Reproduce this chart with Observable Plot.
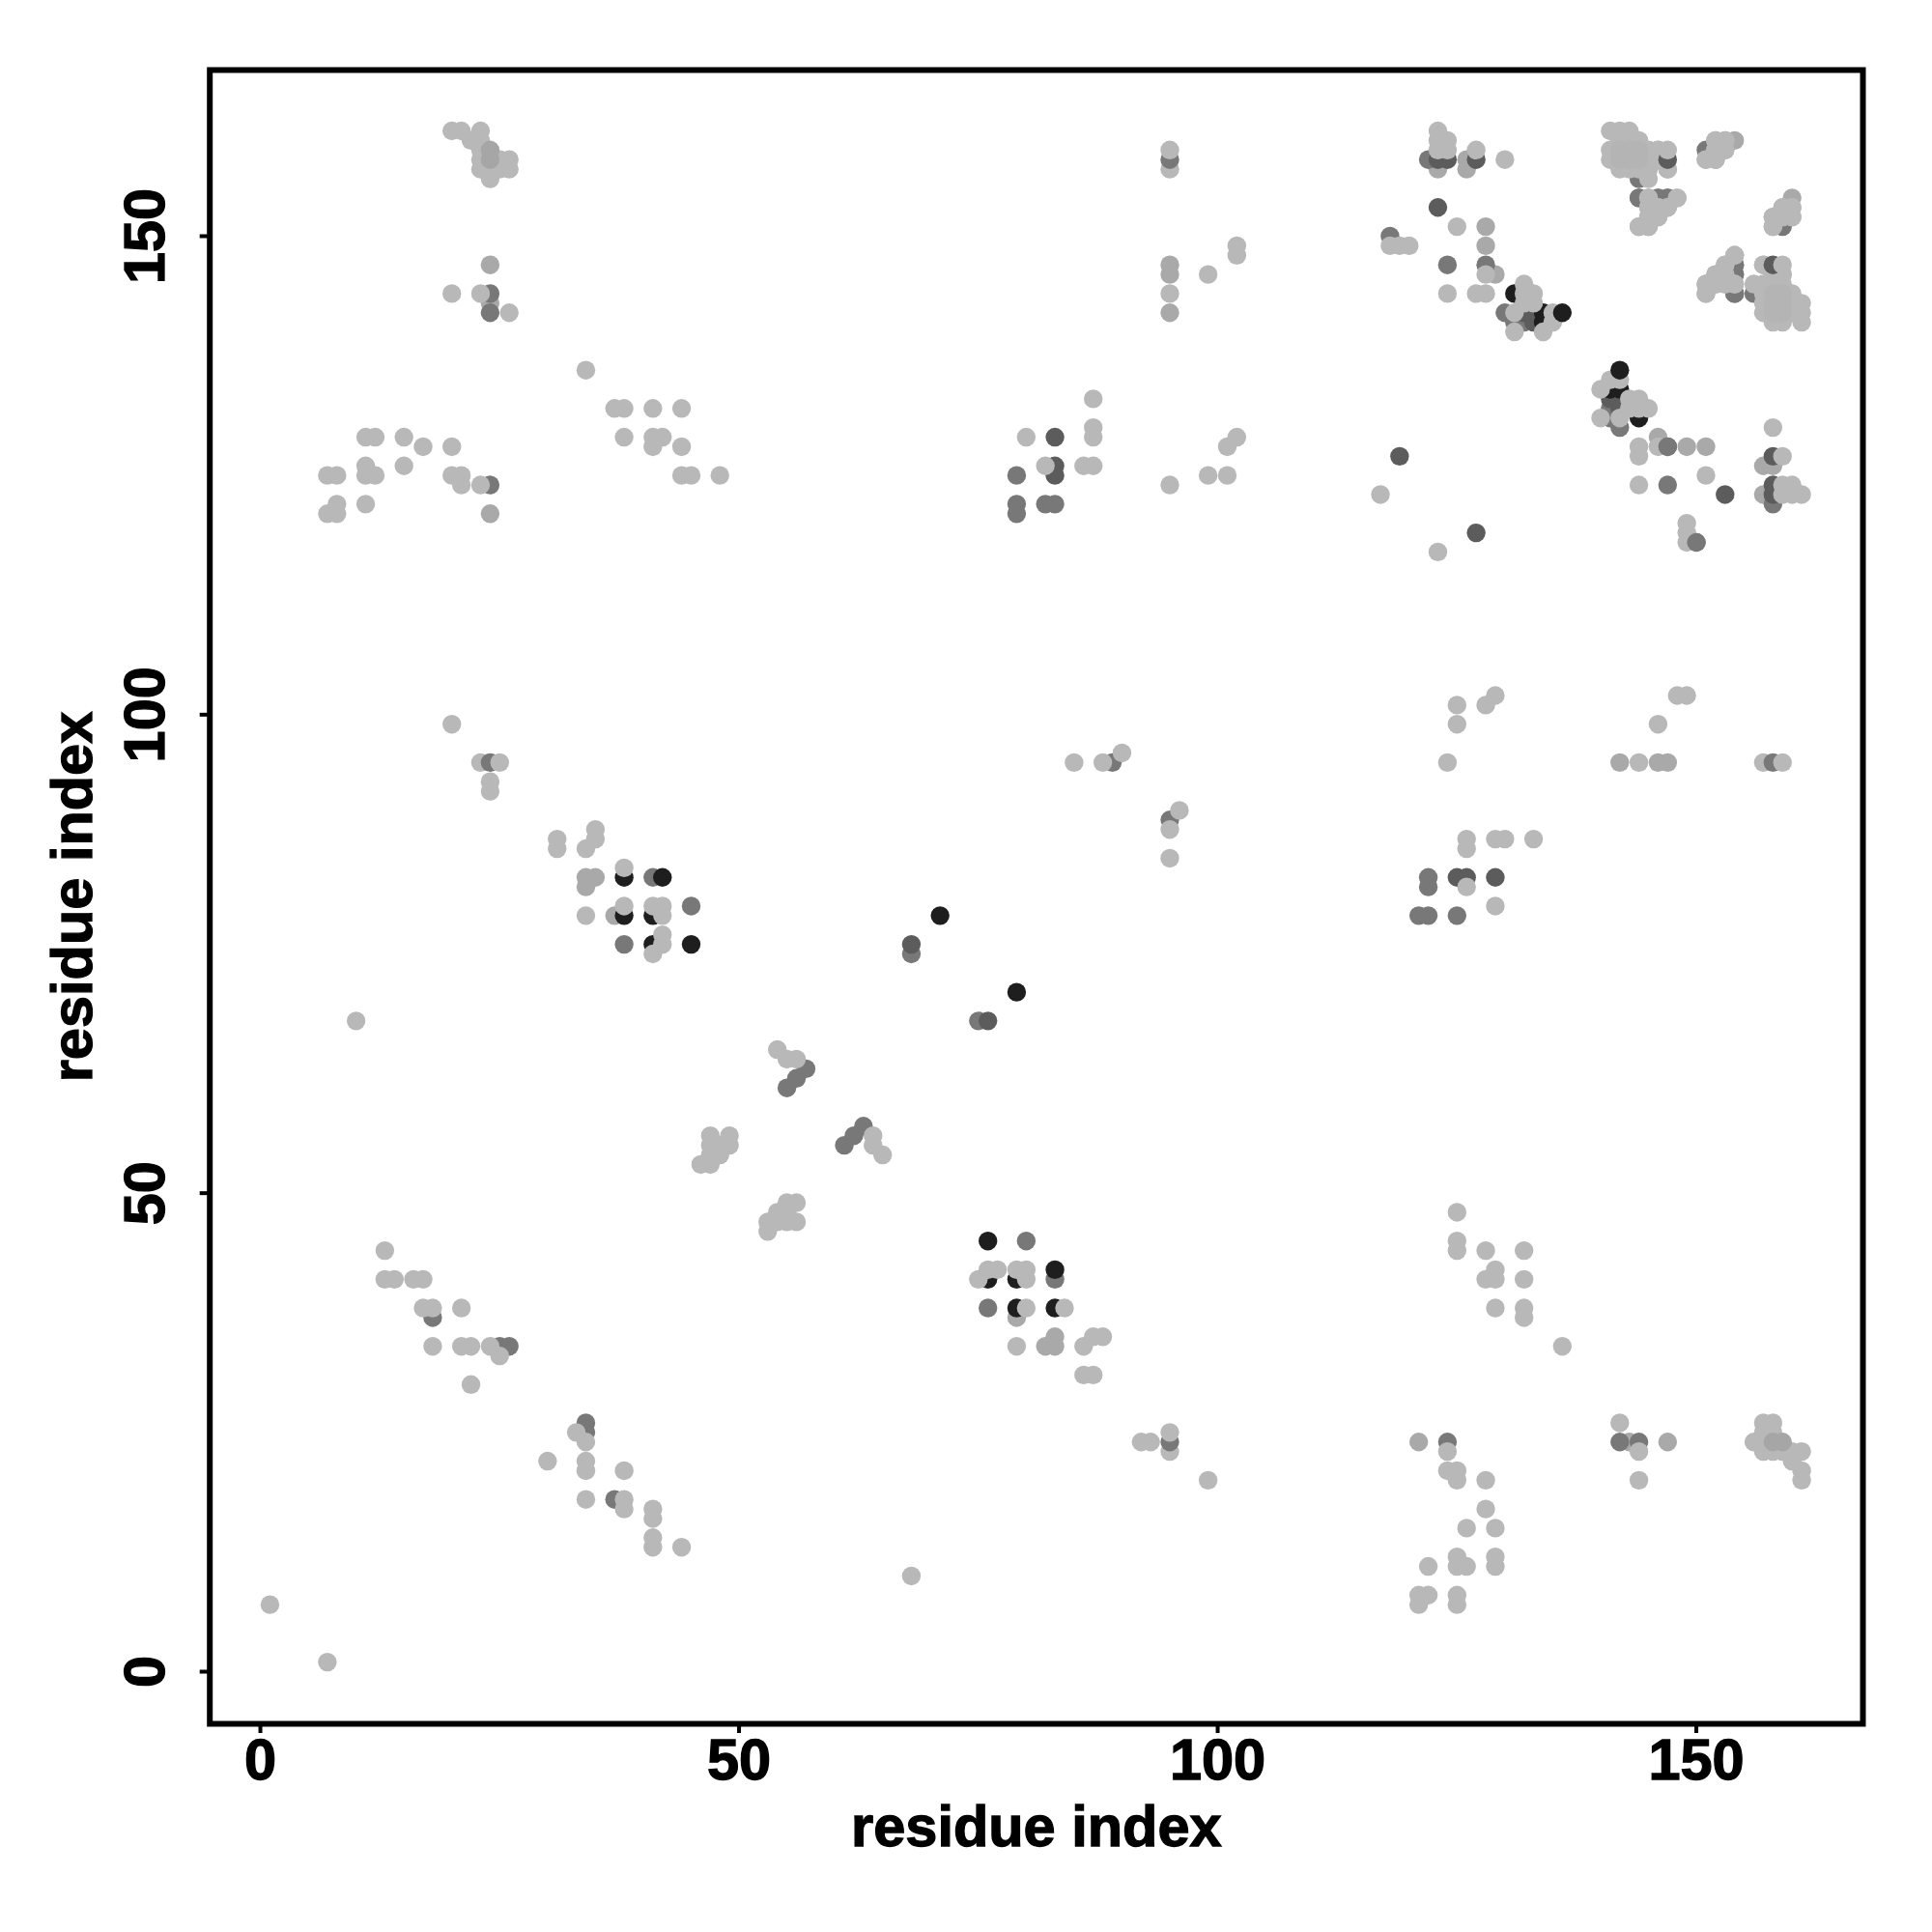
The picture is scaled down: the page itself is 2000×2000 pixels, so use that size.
<!DOCTYPE html>
<html>
<head>
<meta charset="utf-8">
<script src="https://cdn.jsdelivr.net/npm/d3@7"></script>
<script src="https://cdn.jsdelivr.net/npm/@observablehq/plot@0.6"></script>
<style>html,body{margin:0;padding:0;background:#fff}svg{display:block;max-width:none!important}svg text{stroke:#000;stroke-width:1.3px}</style>
</head>
<body>
<div id="chart"></div>
<script>
// Contact pairs [i, j] (the map is symmetric: each pair is shown at (i,j) and (j,i))
const blackPairs = [[38,83],[42,83],[38,79],[41,79],[41,76],[45,76],[71,79],[131,144],[134,141],[134,142]];
const darkPairs = [[83,125],[83,126],[83,129],[68,76],[119,127],[123,153],[127,158],[132,142],[133,141],[133,142]];
const grayPairs = [[18,37],[25,34],[26,34],[24,124],[24,142],[24,144],[41,83],[38,76],[45,80],[55,61],[56,62],[57,63],[68,75],[79,121],[79,122],[79,125],[82,122],[83,122],[89,95],[118,150],[122,158],[124,147],[128,147],[130,142],[131,141],[132,141],[144,154],[144,156],[146,154],[147,154],[151,159],[154,146],[154,147],[154,144]];
const midPairs = [[24,121],[24,147],[24,143],[37,79],[34,82],[34,83],[35,83],[95,142],[95,146],[95,147],[123,157],[126,157],[126,158],[128,151],[128,149],[129,146],[154,160]];
const lightPairs = [[1,7],[10,68],[7,121],[8,121],[8,122],[7,125],[8,125],[11,122],[11,125],[11,126],[12,125],[11,129],[12,129],[15,126],[15,129],[17,128],[20,125],[21,125],[21,124],[20,128],[23,124],
[20,161],[21,161],[22,160],[23,161],[23,160],[23,159],[23,158],[23,157],[24,157],[24,156],[25,158],[25,157],[26,158],[26,157],[20,144],[23,144],[26,142],
[13,44],[13,41],[14,41],[16,41],[17,41],[17,38],[18,38],[21,38],[18,34],[21,34],[22,34],[24,34],[25,33],[22,30],[20,99],[23,95],[24,93],[24,92],
[34,136],[37,132],[38,132],[41,132],[44,132],[38,129],[41,129],[42,129],[41,128],[44,128],[44,125],[45,125],[48,125],
[31,87],[31,86],[34,86],[35,87],[35,88],[38,84],[34,79],[38,80],[41,80],[42,80],[42,79],[42,77],[42,76],[41,75],
[46,53],[47,53],[47,54],[48,54],[47,55],[48,55],[49,55],[47,56],[49,56],[54,65],[55,64],[56,64],
[80,129],[82,126],[86,126],[87,126],[87,129],[87,130],[87,133],[85,95],[88,95],[90,96],[95,124],[99,125],[101,125],[101,128],[102,129],[95,144],[95,157],[99,146],[102,148],[102,149],
[117,123],[118,149],[119,149],[120,149],[123,160],[123,161],[124,160],[125,151],[127,159],[130,158],[128,144],[127,144],[124,144],[128,146],
[131,140],[131,142],[132,143],[133,143],[132,144],[133,144],[132,145],[134,140],[135,141],[135,142],
[141,161],[142,161],[143,161],[142,160],[143,160],[144,160],[141,159],[141,158],[142,157],[142,158],[142,159],[143,157],[143,158],[143,159],[144,157],[144,158],[144,159],[145,156],[145,157],[145,158],[145,159],[146,158],[146,159],[147,157],[145,154],[148,154],[145,153],[146,153],[147,153],[145,152],[146,152],[144,151],[145,151],
[152,160],[153,160],[152,159],[153,159],[151,158],[152,158],[159,153],[160,153],[158,152],[159,152],[160,152],[158,151],
[154,148],[153,147],[152,146],[153,146],[151,145],[152,145],[153,145],[154,145],[151,144],[157,147],[159,146]];
const corePairs = [[142,158],[143,158],[144,158],[142,159],[143,159],[144,159]];
const raisedDarkPairs = [[147,158],[123,158],[124,158]];
const raisedGrayPairs = [[24,95],[95,158]];
const finalLightPairs = [[147,159],[123,159],[124,159],[25,95],[95,159]];
const raisedMidPairs = [[24,158],[24,159]];
const raisedBlackPairs = [[136,142]];
const raisedGrayPoints = [[150,118],[147,128]];

const xTicks = [0, 50, 100, 150];
const yTicks = [0, 50, 100, 150];
const axisTitle = "residue index";

const both = ps => ps.flatMap(([i, j]) => [{x: i, y: j}, {x: j, y: i}]);
const one = ps => ps.map(([x, y]) => ({x, y}));
const layers = [
  [both(midPairs), "#a9a9a9"],
  [both(grayPairs), "#787878"],
  [both(darkPairs), "#5c5c5c"],
  [both(blackPairs), "#1e1e1e"],
  [both(lightPairs), "#b8b8b8"],
  [both(corePairs), "#b4b4b4"],
  [both(raisedDarkPairs), "#5c5c5c"],
  [both(raisedGrayPairs), "#787878"],
  [both(finalLightPairs), "#b8b8b8"],
  [both(raisedMidPairs), "#a6a6a6"],
  [one(raisedGrayPoints), "#787878"],
  [both(raisedBlackPairs), "#1e1e1e"]
];

const font = "'Liberation Sans', Arial, Helvetica, sans-serif";
const plot = Plot.plot({
  width: 2000,
  height: 2000,
  marginLeft: 216.7,
  marginRight: 72,
  marginTop: 72,
  marginBottom: 216,
  style: {background: "#fff", fontFamily: font},
  x: {domain: [-5.28, 167.4]},
  y: {domain: [-5.45, 167.36]},
  marks: [
    ...layers.map(([data, tone]) => Plot.dot(data, {x: "x", y: "y", r: 9.7, fill: tone})),
    Plot.frame({stroke: "#000", strokeWidth: 6}),
    Plot.axisX({anchor: "bottom", ticks: xTicks, tickSize: 10, tickPadding: 5, fontSize: 59.5, fontWeight: "bold", fill: "#000", stroke: "#000", strokeWidth: 4, label: axisTitle, labelAnchor: "center", labelArrow: "none", labelOffset: 126, tickFormat: d => String(d)}),
    Plot.axisY({anchor: "left", ticks: yTicks, tickSize: 10, tickPadding: 37, tickRotate: -90, fontSize: 59.5, fontWeight: "bold", fill: "#000", stroke: "#000", strokeWidth: 4, label: axisTitle, labelAnchor: "center", labelArrow: "none", labelOffset: 164, tickFormat: d => String(d)})
  ]
});
document.getElementById("chart").appendChild(plot);
</script>
</body>
</html>
